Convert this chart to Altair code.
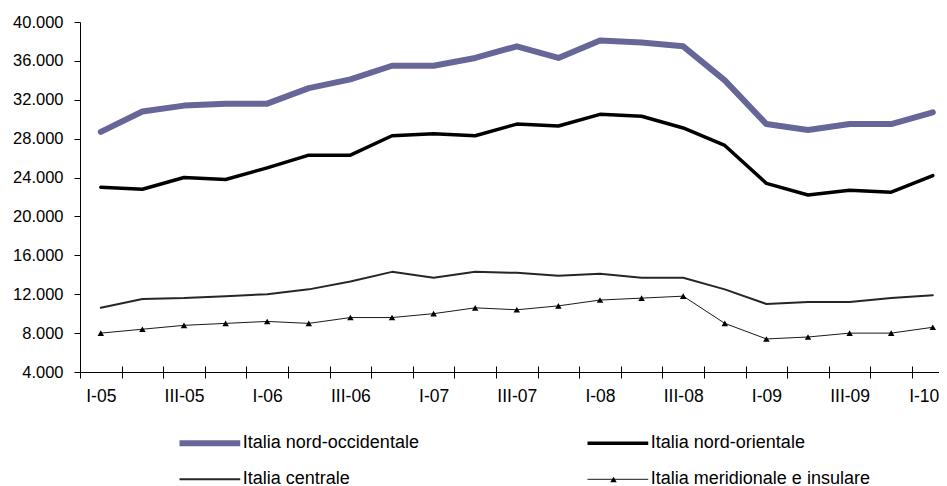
import altair as alt
import pandas as pd

quarters = [
    "I-05", "II-05", "III-05", "IV-05",
    "I-06", "II-06", "III-06", "IV-06",
    "I-07", "II-07", "III-07", "IV-07",
    "I-08", "II-08", "III-08", "IV-08",
    "I-09", "II-09", "III-09", "IV-09",
    "I-10",
]
series_names = [
    "Italia nord-occidentale",
    "Italia nord-orientale",
    "Italia centrale",
    "Italia meridionale e insulare",
]
nord_occ = [28700, 30800, 31400, 31600, 31600, 33200, 34100, 35500, 35500, 36300, 37500,
            36300, 38100, 37900, 37500, 34000, 29500, 28900, 29500, 29500, 30700]
nord_ori = [23000, 22800, 24000, 23800, 25000, 26300, 26300, 28300, 28500, 28300, 29500,
            29300, 30500, 30300, 29100, 27300, 23400, 22200, 22700, 22500, 24200]
centrale = [10600, 11500, 11600, 11800, 12000, 12500, 13300, 14300, 13700, 14300, 14200,
            13900, 14100, 13700, 13700, 12500, 11000, 11200, 11200, 11600, 11900]
merid = [8000, 8400, 8800, 9000, 9200, 9000, 9600, 9600, 10000, 10600, 10400,
         10800, 11400, 11600, 11800, 9000, 7400, 7600, 8000, 8000, 8600]
y_ticks = [4000, 8000, 12000, 16000, 20000, 24000, 28000, 32000, 36000, 40000]

colors = ["#666699", "#000000", "#262626", "#1a1a1a"]
widths = [6, 3.5, 2, 1]

rows = []
for name, vals in zip(series_names, [nord_occ, nord_ori, centrale, merid]):
    for q, v in zip(quarters, vals):
        rows.append({"trimestre": q, "serie": name, "valore": v})
df = pd.DataFrame(rows)

FONT = "Liberation Sans"
LAST = quarters[-1]

x_scale = alt.Scale(domain=quarters, range=[0, 873.6], paddingInner=0, paddingOuter=0)
y_scale = alt.Scale(domain=[4000, 40000], nice=False, zero=False)

y_axis = alt.Axis(
    values=y_ticks,
    labelExpr="replace(format(datum.value, ',.0f'), ',', '.')",
    grid=False, title=None, domainColor="black", tickColor="black",
    tickSize=6, labelFont=FONT, labelFontSize=16.5, labelColor="black",
    labelPadding=11,
)
x_axis = alt.Axis(
    title=None, labelAngle=0, tickBand="extent", grid=False,
    labelExpr="indexof(datum.label, 'II-') == 0 || indexof(datum.label, 'IV-') == 0 ? '' : datum.label",
    labelAlign={"condition": {"test": f"datum.label == '{LAST}'", "value": "right"}, "value": "center"},
    labelOffset={"condition": {"test": f"datum.label == '{LAST}'", "value": 6}, "value": 0},
    domainColor="black", tickColor="black", tickSize=6,
    labelFont=FONT, labelFontSize=17.5, labelColor="black", labelPadding=9,
)
x_axis_top = alt.Axis(
    title=None, orient="top", offset=-350, labels=False, domain=False,
    tickBand="extent", tickColor="black", tickSize=6, grid=False,
)

main_legend = alt.Legend(
    orient="none", legendX=99.3, legendY=408.8, columns=2, direction="horizontal",
    title=None, symbolType="M-1.33,0H4.67", symbolSize=413, labelFont=FONT, labelFontSize=18,
    labelColor="black", labelOffset=36.5, labelLimit=400, columnPadding=168,
    rowPadding=11, padding=0, clipHeight=25,
)

lines = alt.Chart(df).mark_line(strokeCap="round", strokeJoin="round").encode(
    x=alt.X("trimestre:N", sort=quarters, scale=x_scale, axis=x_axis),
    y=alt.Y("valore:Q", scale=y_scale, axis=y_axis),
    color=alt.Color("serie:N", scale=alt.Scale(domain=series_names, range=colors),
                    legend=main_legend),
    strokeWidth=alt.StrokeWidth("serie:O", scale=alt.Scale(type="ordinal", domain=series_names, range=widths),
                                legend=main_legend),
)

points = alt.Chart(df[df["serie"] == series_names[3]]).mark_point(
    filled=True, size=42, opacity=1
).encode(
    x=alt.X("trimestre:N", sort=quarters, scale=x_scale, axis=x_axis_top),
    y=alt.Y("valore:Q", scale=y_scale, axis=y_axis),
    color=alt.value("black"),
    shape=alt.Shape("serie:N", scale=alt.Scale(domain=[series_names[3]], range=["triangle-up"]),
                    legend=alt.Legend(orient="none", legendX=530, legendY=454, title=None,
                                      labelExpr="''", symbolSize=42, symbolFillColor="black",
                                      symbolStrokeWidth=0, padding=0, labelFontSize=1)),
)

chart = alt.layer(lines, points).resolve_axis(x="independent").properties(
    width=859, height=350,
    autosize=alt.AutoSizeParams(type="none"),
    padding={"left": 72, "top": 14, "right": 0, "bottom": 120},
    background="white",
).configure_view(stroke=None)

chart.save("out.html", embed_options={"renderer": "svg", "actions": False})
